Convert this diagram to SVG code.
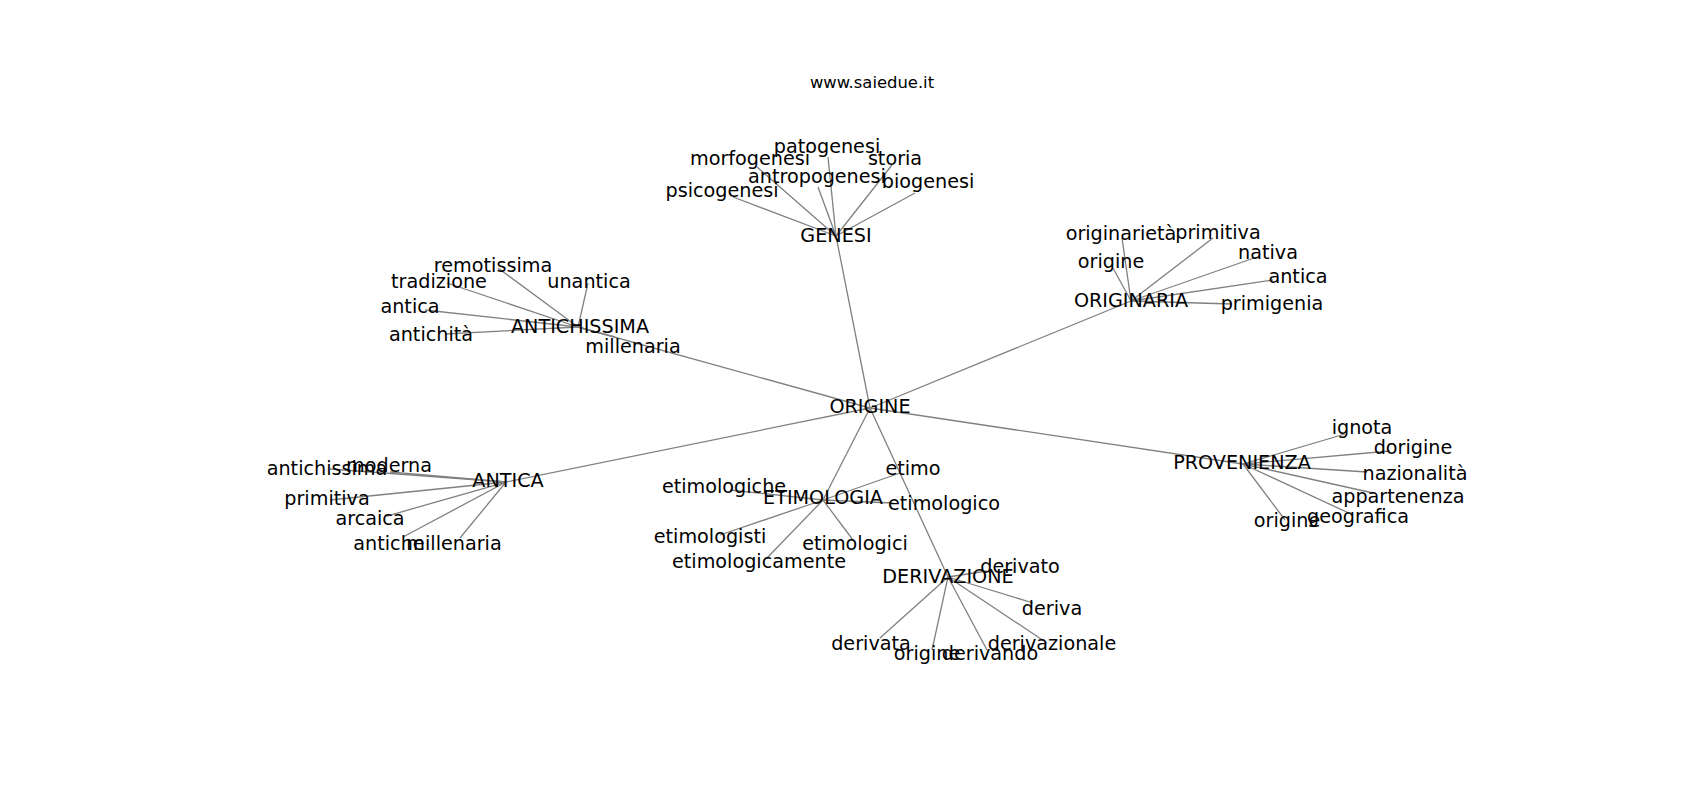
<svg xmlns="http://www.w3.org/2000/svg" width="1700" height="800" viewBox="0 0 1700 800">
<style>
.e{stroke:#808080;stroke-width:1.3;fill:none}
text{font-family:"DejaVu Sans",sans-serif;font-size:19.2px;fill:#000;text-anchor:middle}
.t{font-size:16.4px}
</style>
<rect width="1700" height="800" fill="#fff"/>
<g id="connectors">
<line class="e" x1="870" y1="408" x2="836" y2="236"/>
<line class="e" x1="870" y1="408" x2="1131" y2="301"/>
<line class="e" x1="870" y1="408" x2="578" y2="327"/>
<line class="e" x1="870" y1="408" x2="506" y2="482"/>
<line class="e" x1="870" y1="408" x2="823" y2="500"/>
<line class="e" x1="870" y1="408" x2="948" y2="577"/>
<line class="e" x1="870" y1="408" x2="1243" y2="464"/>
<line class="e" x1="836" y1="236" x2="828" y2="157"/>
<line class="e" x1="836" y1="236" x2="757" y2="167"/>
<line class="e" x1="836" y1="236" x2="892" y2="165"/>
<line class="e" x1="836" y1="236" x2="818" y2="187"/>
<line class="e" x1="836" y1="236" x2="915" y2="193"/>
<line class="e" x1="836" y1="236" x2="733" y2="197"/>
<line class="e" x1="1131" y1="301" x2="1122" y2="238"/>
<line class="e" x1="1131" y1="301" x2="1113" y2="268"/>
<line class="e" x1="1131" y1="301" x2="1213" y2="238"/>
<line class="e" x1="1131" y1="301" x2="1257" y2="257"/>
<line class="e" x1="1131" y1="301" x2="1273" y2="280"/>
<line class="e" x1="1131" y1="301" x2="1232" y2="304"/>
<line class="e" x1="578" y1="327" x2="498" y2="268"/>
<line class="e" x1="578" y1="327" x2="447" y2="283"/>
<line class="e" x1="578" y1="327" x2="588" y2="283"/>
<line class="e" x1="578" y1="327" x2="425" y2="310"/>
<line class="e" x1="578" y1="327" x2="445" y2="334"/>
<line class="e" x1="578" y1="327" x2="615" y2="337"/>
<line class="e" x1="506" y1="482" x2="330" y2="469"/>
<line class="e" x1="506" y1="482" x2="390" y2="472"/>
<line class="e" x1="506" y1="482" x2="330" y2="500"/>
<line class="e" x1="506" y1="482" x2="387" y2="516"/>
<line class="e" x1="506" y1="482" x2="403" y2="537"/>
<line class="e" x1="506" y1="482" x2="460" y2="538"/>
<line class="e" x1="823" y1="500" x2="900" y2="473"/>
<line class="e" x1="823" y1="500" x2="730" y2="490"/>
<line class="e" x1="823" y1="500" x2="893" y2="503"/>
<line class="e" x1="823" y1="500" x2="720" y2="535"/>
<line class="e" x1="823" y1="500" x2="853" y2="540"/>
<line class="e" x1="823" y1="500" x2="767" y2="558"/>
<line class="e" x1="948" y1="577" x2="987" y2="571"/>
<line class="e" x1="948" y1="577" x2="1033" y2="603"/>
<line class="e" x1="948" y1="577" x2="880" y2="638"/>
<line class="e" x1="948" y1="577" x2="932" y2="650"/>
<line class="e" x1="948" y1="577" x2="987" y2="650"/>
<line class="e" x1="948" y1="577" x2="1047" y2="643"/>
<line class="e" x1="1243" y1="464" x2="1345" y2="434"/>
<line class="e" x1="1243" y1="464" x2="1390" y2="451"/>
<line class="e" x1="1243" y1="464" x2="1367" y2="472"/>
<line class="e" x1="1243" y1="464" x2="1373" y2="493"/>
<line class="e" x1="1243" y1="464" x2="1353" y2="515"/>
<line class="e" x1="1243" y1="464" x2="1285" y2="520"/>
</g>
<text class="t" x="872" y="88">www.saiedue.it</text>
<g id="n-origine"><text x="870" y="413">ORIGINE</text></g>
<g id="n-genesi"><text x="836" y="242">GENESI</text></g>
<g id="n-patogenesi"><text x="827" y="153">patogenesi</text></g>
<g id="n-morfogenesi"><text x="750" y="165">morfogenesi</text></g>
<g id="n-storia"><text x="895" y="165">storia</text></g>
<g id="n-antropogenesi"><text x="817" y="183">antropogenesi</text></g>
<g id="n-biogenesi"><text x="928" y="188">biogenesi</text></g>
<g id="n-psicogenesi"><text x="722" y="197">psicogenesi</text></g>
<g id="n-originaria"><text x="1131" y="307">ORIGINARIA</text></g>
<g id="n-originarieta"><text x="1121" y="240">originarietà</text></g>
<g id="n-origine2"><text x="1111" y="268">origine</text></g>
<g id="n-primitiva2"><text x="1218" y="239">primitiva</text></g>
<g id="n-nativa"><text x="1268" y="259">nativa</text></g>
<g id="n-antica2"><text x="1298" y="283">antica</text></g>
<g id="n-primigenia"><text x="1272" y="310">primigenia</text></g>
<g id="n-antichissima"><text x="580" y="333">ANTICHISSIMA</text></g>
<g id="n-remotissima"><text x="493" y="272">remotissima</text></g>
<g id="n-tradizione"><text x="439" y="288">tradizione</text></g>
<g id="n-unantica"><text x="589" y="288">unantica</text></g>
<g id="n-antica3"><text x="410" y="313">antica</text></g>
<g id="n-antichita"><text x="431" y="341">antichità</text></g>
<g id="n-millenaria2"><text x="633" y="353">millenaria</text></g>
<g id="n-antica"><text x="508" y="487">ANTICA</text></g>
<g id="n-antichissima2"><text x="327" y="475">antichissima</text></g>
<g id="n-moderna"><text x="389" y="472">moderna</text></g>
<g id="n-primitiva"><text x="327" y="505">primitiva</text></g>
<g id="n-arcaica"><text x="370" y="525">arcaica</text></g>
<g id="n-antiche"><text x="389" y="550">antiche</text></g>
<g id="n-millenaria"><text x="454" y="550">millenaria</text></g>
<g id="n-etimologia"><text x="823" y="504">ETIMOLOGIA</text></g>
<g id="n-etimo"><text x="913" y="475">etimo</text></g>
<g id="n-etimologiche"><text x="724" y="493">etimologiche</text></g>
<g id="n-etimologico"><text x="944" y="510">etimologico</text></g>
<g id="n-etimologisti"><text x="710" y="543">etimologisti</text></g>
<g id="n-etimologici"><text x="855" y="550">etimologici</text></g>
<g id="n-etimologicamente"><text x="759" y="568">etimologicamente</text></g>
<g id="n-derivazione"><text x="948" y="583">DERIVAZIONE</text></g>
<g id="n-derivato"><text x="1020" y="573">derivato</text></g>
<g id="n-deriva"><text x="1052" y="615">deriva</text></g>
<g id="n-derivata"><text x="871" y="650">derivata</text></g>
<g id="n-origine3"><text x="927" y="660">origine</text></g>
<g id="n-derivando"><text x="990" y="660">derivando</text></g>
<g id="n-derivazionale"><text x="1052" y="650">derivazionale</text></g>
<g id="n-provenienza"><text x="1242" y="469">PROVENIENZA</text></g>
<g id="n-ignota"><text x="1362" y="434">ignota</text></g>
<g id="n-dorigine"><text x="1413" y="454">dorigine</text></g>
<g id="n-nazionalita"><text x="1415" y="480">nazionalità</text></g>
<g id="n-appartenenza"><text x="1398" y="503">appartenenza</text></g>
<g id="n-geografica"><text x="1358" y="523">geografica</text></g>
<g id="n-origine4"><text x="1287" y="527">origine</text></g>
</svg>
